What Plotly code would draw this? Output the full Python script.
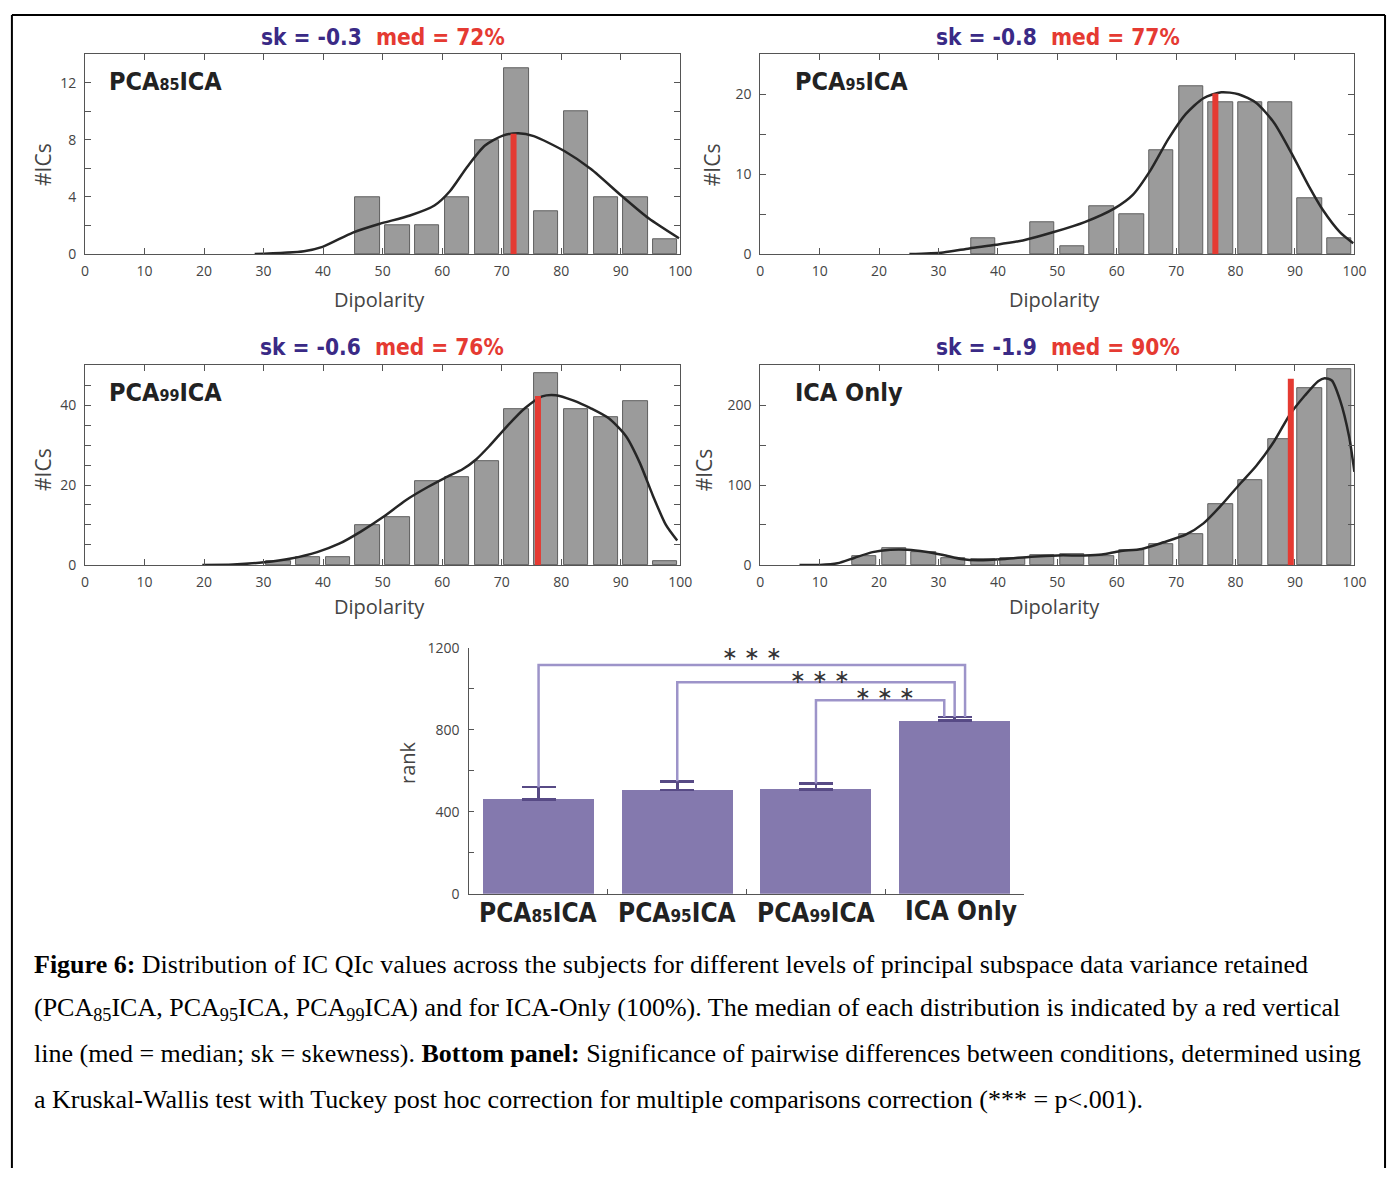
import plotly.graph_objects as go

W, H = 1400, 1177

# ---------------- data ----------------
bin_centers = [2.5, 7.5, 12.5, 17.5, 22.5, 27.5, 32.5, 37.5, 42.5, 47.5,
               52.5, 57.5, 62.5, 67.5, 72.5, 77.5, 82.5, 87.5, 92.5, 97.5]
x_ticks = [0, 10, 20, 30, 40, 50, 60, 70, 80, 90, 100]

counts_pca85 = [0, 0, 0, 0, 0, 0, 0, 0, 0, 4, 2, 2, 4, 8, 13, 3, 10, 4, 4, 1]
counts_pca95 = [0, 0, 0, 0, 0, 0, 0, 2, 0, 4, 1, 6, 5, 13, 21, 19, 19, 19, 7, 2]
counts_pca99 = [0, 0, 0, 0, 0, 0, 1, 2, 2, 10, 12, 21, 22, 26, 39, 48, 39, 37, 41, 1]
counts_ica = [0, 0, 0, 11, 21, 16, 9, 7, 9, 12, 14, 11, 18, 26, 39, 76, 106, 157, 221, 245]

kde_x_pca85 = [28.5, 36.8, 39.9, 45.0, 49.4, 54.6, 58.7, 61.3, 64.2, 67.2, 70.2, 72.8, 75.4, 80.6, 85.0, 90.2, 94.7, 99.8]
kde_y_pca85 = [0.0, 0.2, 0.5, 1.5, 2.1, 2.7, 3.4, 4.4, 6.1, 7.6, 8.3, 8.46, 8.26, 7.2, 5.96, 4.06, 2.5, 1.1]

kde_x_pca95 = [25.1, 30.8, 35.2, 39.7, 44.2, 49.4, 54.6, 59.7, 62.7, 65.7, 68.7, 71.6, 74.6, 77.6, 80.5, 83.5, 86.5, 89.5, 92.4, 94.7, 97.6, 99.8]
kde_y_pca95 = [0.0, 0.2, 0.7, 1.15, 1.7, 2.75, 4.0, 5.75, 7.4, 10.5, 14.4, 17.5, 19.5, 20.25, 20.0, 18.9, 16.4, 12.5, 8.4, 5.5, 2.7, 1.35]

kde_x_pca99 = [19.7, 24.9, 30.1, 34.6, 39.0, 42.7, 46.4, 50.2, 53.9, 57.6, 60.5, 63.5, 65.7, 67.9, 70.9, 73.9, 76.8, 79.1, 82.0, 85.0, 88.0, 90.9, 93.2, 95.4, 97.6, 99.5]
kde_y_pca99 = [0.0, 0.1, 0.65, 1.6, 3.2, 5.3, 8.4, 12.1, 16.2, 19.5, 21.8, 24.0, 26.4, 29.7, 34.7, 39.2, 42.2, 42.5, 41.2, 39.2, 36.7, 32.2, 25.6, 17.4, 10.0, 6.1]

kde_x_ica = [6.6, 10.0, 13.0, 15.9, 18.9, 21.9, 24.8, 27.8, 30.8, 33.8, 36.7, 41.2, 45.6, 50.1, 54.6, 57.5, 60.5, 64.2, 67.9, 71.6, 74.6, 77.6, 80.5, 83.5, 86.5, 89.1, 91.7, 93.9, 95.0, 96.2, 97.6, 99.1, 100.0]
kde_y_ica = [0.0, 0.0, 2.0, 9.0, 16.0, 18.9, 18.9, 16.4, 12.3, 7.4, 5.7, 7.4, 10.3, 11.9, 11.9, 13.0, 17.2, 20.0, 28.3, 37.8, 52.0, 74.7, 99.4, 124.0, 154.8, 187.7, 212.3, 230.0, 233.7, 230.8, 206.0, 161.0, 116.6]

median_pos = [72.0, 76.6, 76.1, 89.3]
median_top = [8.42, 20.1, 42.3, 233.0]
skew_labels = ["sk = -0.3", "sk = -0.8", "sk = -0.6", "sk = -1.9"]
med_labels = ["med = 72%", "med = 77%", "med = 76%", "med = 90%"]
panel_names = ["PCA<span style='font-size:16px'>85</span>ICA",
               "PCA<span style='font-size:16px'>95</span>ICA",
               "PCA<span style='font-size:16px'>99</span>ICA",
               "ICA Only"]
y_max = [14, 25, 50, 250]
y_tickvals = [[0, 2, 4, 6, 8, 10, 12, 14],
              [0, 5, 10, 15, 20, 25],
              [0, 5, 10, 15, 20, 25, 30, 35, 40, 45, 50],
              [0, 50, 100, 150, 200, 250]]
y_ticktext = [["0", "", "4", "", "8", "", "12", ""],
              ["0", "", "10", "", "20", ""],
              ["0", "", "", "", "20", "", "", "", "40", "", ""],
              ["0", "", "100", "", "200", ""]]

cond_labels = ["PCA<span style='font-size:17px'>85</span>ICA",
               "PCA<span style='font-size:17px'>95</span>ICA",
               "PCA<span style='font-size:17px'>99</span>ICA",
               "ICA Only"]
cond_pos = [0, 1, 2, 3]
rank_mean = [461, 507, 510, 846]
rank_err = [59, 42, 28, 16]
rank_ticks = [0, 200, 400, 600, 800, 1000, 1200]
rank_ticktext = ["0", "", "400", "", "800", "", "1200"]
bracket_left = [0, 1, 2]
bracket_right = [3.075, 3.0, 2.925]
bracket_height = [1116, 1032, 944]
bracket_start = [520, 549, 538]
bracket_end = 862
star_x = [1.537, 2.03, 2.50]
star_y = [1176, 1064, 981]

caption_lines = [
    "<b>Figure 6:</b> Distribution of IC QIc values across the subjects for different levels of principal subspace data variance retained",
    "(PCA<sub>85</sub>ICA, PCA<sub>95</sub>ICA, PCA<sub>99</sub>ICA) and for ICA-Only (100%). The median of each distribution is indicated by a red vertical",
    "line (med = median; sk = skewness). <b>Bottom panel:</b> Significance of pairwise differences between conditions, determined using",
    "a Kruskal-Wallis test with Tuckey post hoc correction for multiple comparisons correction (*** = p&lt;.001).",
]

# ---------------- helpers ----------------
def X(px):
    return px / W

def Y(py):
    return 1 - py / H

NARROW = "Liberation Sans Narrow, Arial Narrow, DejaVu Sans Condensed, sans-serif"
TICKF = "Open Sans, Liberation Sans, sans-serif"
SERIF = "Liberation Serif, Times New Roman, serif"

def ann(px, py, text, font, xanchor="center", yanchor="middle", **kw):
    d = dict(x=X(px), y=Y(py), xref="paper", yref="paper", showarrow=False,
             xanchor=xanchor, yanchor=yanchor, text=text, font=font)
    d.update(kw)
    return d

fig = go.Figure()

counts_all = [counts_pca85, counts_pca95, counts_pca99, counts_ica]
kx_all = [kde_x_pca85, kde_x_pca95, kde_x_pca99, kde_x_ica]
ky_all = [kde_y_pca85, kde_y_pca95, kde_y_pca99, kde_y_ica]

boxes = [(82, 684, 45, 248), (765, 1366, 45, 248), (82, 684, 361, 564), (765, 1366, 361, 564)]
title_pos = [(383, 27), (1066, 27), (382, 343), (1066, 343)]
xlab_pos = [(380, 294), (1063, 294), (380, 606), (1063, 606)]
ylab_pos = [(40, 157), (717, 157), (40, 467), (709, 467)]
name_pos = [(104, 73), (798, 73), (104, 389), (798, 389)]

annotations = []
for i in range(4):
    xa = "x" if i == 0 else f"x{i+1}"
    ya = "y" if i == 0 else f"y{i+1}"
    bx = [c for c, v in zip(bin_centers, counts_all[i]) if v > 0]
    by = [v for v in counts_all[i] if v > 0]
    fig.add_trace(go.Bar(x=bx, y=by, width=4.1,
                         marker=dict(color="#9b9b9b", line=dict(color="#5f5f5f", width=1)),
                         xaxis=xa, yaxis=ya, showlegend=False))
    fig.add_trace(go.Scatter(x=kx_all[i], y=ky_all[i], mode="lines",
                             line=dict(color="#262626", width=2.5, shape="spline", smoothing=0.7),
                             xaxis=xa, yaxis=ya, showlegend=False))
    fig.add_trace(go.Scatter(x=[median_pos[i], median_pos[i]], y=[0, median_top[i]], mode="lines",
                             line=dict(color="#e53a32", width=6),
                             xaxis=xa, yaxis=ya, showlegend=False))
    l, r, t, b = boxes[i]
    axx = dict(domain=[X(l), X(r)], range=[0, 100], tickvals=x_ticks,
               ticks="inside", ticklen=6, tickcolor="#555", showline=True, linecolor="#555",
               linewidth=1, mirror="ticks", showgrid=False, zeroline=False,
               tickfont=dict(family=TICKF, size=14, color="#444"), ticklabelstandoff=4,
               anchor=ya)
    axy = dict(domain=[Y(b), Y(t)], range=[0, y_max[i]], tickvals=y_tickvals[i],
               ticktext=y_ticktext[i], ticks="inside", ticklen=6, tickcolor="#555",
               showline=True, linecolor="#555", linewidth=1, mirror="ticks",
               showgrid=False, zeroline=False,
               tickfont=dict(family=TICKF, size=14, color="#444"), ticklabelstandoff=5,
               anchor=xa)
    fig.update_layout(**{("xaxis" if i == 0 else f"xaxis{i+1}"): axx,
                         ("yaxis" if i == 0 else f"yaxis{i+1}"): axy})
    tx, ty = title_pos[i]
    annotations.append(ann(tx, ty,
                           f"<b><span style='color:#3a2a86'>{skew_labels[i]}</span>\u00a0\u00a0<span style='color:#e53a32'>{med_labels[i]}</span></b>",
                           dict(family=NARROW, size=22.5)))
    lx, ly = xlab_pos[i]
    annotations.append(ann(lx, ly, "Dipolarity", dict(family=TICKF, size=20, color="#444")))
    yx, yy = ylab_pos[i]
    annotations.append(ann(yx, yy, "#ICs", dict(family=TICKF, size=21, color="#444"), textangle=-90))
    nx, ny = name_pos[i]
    annotations.append(ann(nx, ny, f"<b>{panel_names[i]}</b>",
                           dict(family=NARROW, size=25, color="#222"), xanchor="left"))

# ---------------- bar chart ----------------
for k in range(3):
    fig.add_trace(go.Scatter(x=[bracket_left[k], bracket_left[k], bracket_right[k], bracket_right[k]],
                             y=[bracket_start[k], bracket_height[k], bracket_height[k], bracket_end],
                             mode="lines", line=dict(color="#9d94c9", width=2.5),
                             xaxis="x5", yaxis="y5", showlegend=False))
fig.add_trace(go.Bar(x=cond_pos, y=rank_mean, width=0.8,
                     marker=dict(color="#8479ae", line=dict(width=0)),
                     error_y=dict(type="data", symmetric=False, array=rank_err,
                                  arrayminus=[0, 0, 0, 0], color="#574a85", thickness=2.5, width=17),
                     xaxis="x5", yaxis="y5", showlegend=False))
fig.update_layout(
    xaxis5=dict(domain=[X(470.6), X(1031.8)], range=[-0.5, 3.5], tickvals=[0.5, 1.5, 2.5],
                showticklabels=False, ticks="inside", ticklen=5, tickcolor="#555",
                showline=True, linecolor="#555", linewidth=1, showgrid=False, zeroline=False,
                anchor="y5"),
    yaxis5=dict(domain=[Y(898.3), Y(648.3)], range=[0, 1200], tickvals=rank_ticks,
                ticktext=rank_ticktext, ticks="inside", ticklen=5, tickcolor="#555",
                showline=True, linecolor="#555", linewidth=1, showgrid=False, zeroline=False,
                tickfont=dict(family=TICKF, size=14, color="#444"), ticklabelstandoff=6,
                anchor="x5"),
)
for k in range(3):
    annotations.append(dict(x=star_x[k], y=star_y[k], xref="x5", yref="y5", showarrow=False,
                            xanchor="center", yanchor="middle",
                            text="\u2217\u00a0\u2217\u00a0\u2217",
                            font=dict(family="DejaVu Sans, sans-serif", size=19, color="#333")))
cond_px = [540, 681, 821, 968]
cond_py = [918, 918, 918, 916]
for k in range(4):
    annotations.append(ann(cond_px[k], cond_py[k], f"<b>{cond_labels[k]}</b>",
                           dict(family=NARROW, size=26, color="#222")))
annotations.append(ann(408, 765, "rank", dict(family=TICKF, size=20, color="#444"), textangle=-90))

# ---------------- caption ----------------
cap_y = [970, 1015, 1061, 1107]
for k, line in enumerate(caption_lines):
    annotations.append(ann(28, cap_y[k], line, dict(family=SERIF, size=26, color="#000"),
                           xanchor="left"))

# frame (left, top, right)
shapes = [
    dict(type="line", xref="paper", yref="paper", x0=X(8), x1=X(8), y0=Y(5), y1=0,
         line=dict(color="#000", width=2)),
    dict(type="line", xref="paper", yref="paper", x0=X(8), x1=X(1397), y0=Y(5), y1=Y(5),
         line=dict(color="#000", width=2)),
    dict(type="line", xref="paper", yref="paper", x0=X(1397), x1=X(1397), y0=Y(5), y1=0,
         line=dict(color="#000", width=2)),
]

fig.update_layout(width=W, height=H, margin=dict(l=0, r=0, t=0, b=0),
                  paper_bgcolor="white", plot_bgcolor="white",
                  annotations=annotations, shapes=shapes, bargap=0)

fig.write_html("out.html", config={"displayModeBar": False},
               post_script="document.body.style.margin='0';document.body.style.overflow='hidden';")
